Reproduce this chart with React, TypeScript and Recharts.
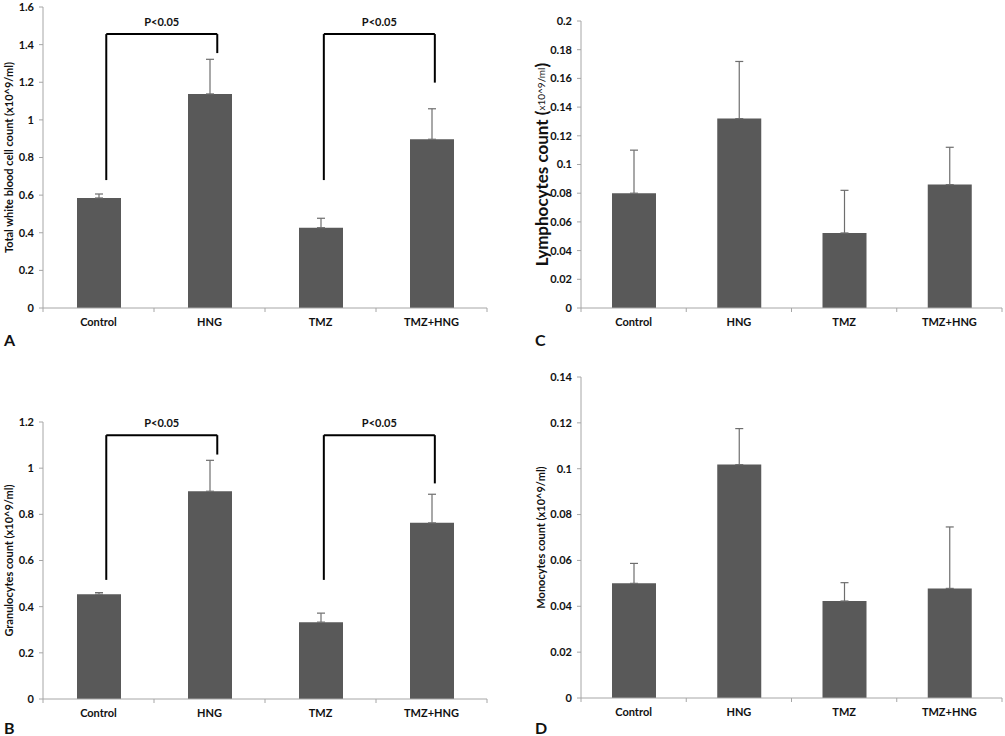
import React from 'react';
import { BarChart, Bar, XAxis, YAxis, ErrorBar, ReferenceLine } from 'recharts';

const categories = ['Control', 'HNG', 'TMZ', 'TMZ+HNG'];

const wbcMean = [0.585, 1.138, 0.427, 0.897];
const wbcErr = [0.021, 0.184, 0.05, 0.162];
const wbcTicks = [0, 0.2, 0.4, 0.6, 0.8, 1, 1.2, 1.4, 1.6];

const granMean = [0.454, 0.9, 0.333, 0.763];
const granErr = [0.007, 0.134, 0.039, 0.124];
const granTicks = [0, 0.2, 0.4, 0.6, 0.8, 1, 1.2];

const lymphMean = [0.08, 0.132, 0.0523, 0.086];
const lymphErr = [0.03, 0.0398, 0.0297, 0.026];
const lymphTicks = [0, 0.02, 0.04, 0.06, 0.08, 0.1, 0.12, 0.14, 0.16, 0.18, 0.2];

const monoMean = [0.05, 0.1018, 0.0423, 0.0478];
const monoErr = [0.0087, 0.0157, 0.008, 0.0268];
const monoTicks = [0, 0.02, 0.04, 0.06, 0.08, 0.1, 0.12, 0.14];

// significance brackets (x in category units on a 0..4 axis, y in data units)
const wbcBrackets = [
  { x1: 0.57, x2: 1.57, top: 1.456, leftEnd: 0.68, rightEnd: 1.355, label: 'P<0.05' },
  { x1: 2.53, x2: 3.53, top: 1.456, leftEnd: 0.68, rightEnd: 1.198, label: 'P<0.05' },
];
const granBrackets = [
  { x1: 0.57, x2: 1.57, top: 1.143, leftEnd: 0.516, rightEnd: 1.059, label: 'P<0.05' },
  { x1: 2.53, x2: 3.53, top: 1.143, leftEnd: 0.516, rightEnd: 0.934, label: 'P<0.05' },
];

const FONT = 'Lato, "Open Sans", "DejaVu Sans", sans-serif';
const BAR = '#595959';
const AXIS = '#a6a6a6';
const xTicks = [0, 0.5, 1, 1.5, 2, 2.5, 3, 3.5, 4];

const makeRows = (mean: number[], err: number[]) =>
  categories.map((c, i) => ({ name: c, pos: i + 0.5, value: mean[i], err: [0, err[i]] }));

const fmt = (v: number) => String(+v.toFixed(2));

const XTick = (props: any) => {
  const { x, y, payload } = props;
  const v = payload.value;
  if (Number.isInteger(v)) {
    return <line x1={x} x2={x} y1={y} y2={y + 4} stroke={AXIS} strokeWidth={1} />;
  }
  return (
    <text x={x} y={y + 10} dy="0.71em" textAnchor="middle" fontFamily={FONT} fontSize={11} fontWeight={700} fill="#111">
      {categories[Math.floor(v)]}
    </text>
  );
};

type PanelProps = {
  left: number;
  top: number;
  width: number;
  height: number;
  marginTop: number;
  marginRight: number;
  yWidth: number;
  xHeight: number;
  mean: number[];
  err: number[];
  ticks: number[];
  yLabel: React.ReactNode;
  labelX: number;
  brackets?: typeof wbcBrackets;
};

const Panel = (p: PanelProps) => {
  const data = makeRows(p.mean, p.err);
  const max = p.ticks[p.ticks.length - 1];
  return (
    <div style={{ position: 'absolute', left: p.left, top: p.top }}>
      <BarChart width={p.width} height={p.height} data={data} margin={{ top: p.marginTop, right: p.marginRight, bottom: 0, left: 0 }}>
        <XAxis
          dataKey="pos"
          type="number"
          domain={[0, 4]}
          ticks={xTicks}
          interval={0}
          height={p.xHeight}
          tickSize={0}
          tickMargin={0}
          tickLine={false}
          axisLine={{ stroke: AXIS, strokeWidth: 1 }}
          tick={<XTick />}
          allowDataOverflow
        />
        <YAxis
          width={p.yWidth}
          domain={[0, max]}
          ticks={p.ticks}
          interval={0}
          tickFormatter={fmt}
          tickSize={4}
          tickMargin={5}
          tickLine={{ stroke: AXIS }}
          axisLine={{ stroke: AXIS, strokeWidth: 1 }}
          tick={{ fontFamily: FONT, fontSize: 11, fontWeight: 700, fill: '#111' }}
          label={{
            content: (lp: any) => {
              const vb = lp.viewBox || {};
              const cx = p.labelX;
              const cy = vb.y + vb.height / 2;
              return (
                <text
                  x={cx}
                  y={cy}
                  transform={`rotate(-90, ${cx}, ${cy})`}
                  textAnchor="middle"
                  dominantBaseline="central"
                  fontFamily={FONT}
                  fill="#111"
                >
                  {p.yLabel}
                </text>
              );
            },
          }}
        />
        <Bar dataKey="value" fill={BAR} barSize={44} isAnimationActive={false}>
          <ErrorBar dataKey="err" width={4} stroke="#6e6e6e" strokeWidth={1.2} direction="y" />
        </Bar>
        {(p.brackets || []).map((b, i) => (
          <ReferenceLine
            key={'h' + i}
            segment={[{ x: b.x1, y: b.top }, { x: b.x2, y: b.top }]}
            stroke="#000"
            strokeWidth={2}
            ifOverflow="visible"
            label={{ value: b.label, position: 'top', offset: 8, fill: '#111', fontSize: 11, fontWeight: 700, fontFamily: FONT }}
          />
        ))}
        {(p.brackets || []).map((b, i) => (
          <ReferenceLine
            key={'l' + i}
            segment={[{ x: b.x1, y: b.top }, { x: b.x1, y: b.leftEnd }]}
            stroke="#000"
            strokeWidth={2}
            ifOverflow="visible"
          />
        ))}
        {(p.brackets || []).map((b, i) => (
          <ReferenceLine
            key={'r' + i}
            segment={[{ x: b.x2, y: b.top }, { x: b.x2, y: b.rightEnd }]}
            stroke="#000"
            strokeWidth={2}
            ifOverflow="visible"
          />
        ))}
      </BarChart>
    </div>
  );
};

const letterStyle = (left: number, top: number): React.CSSProperties => ({
  position: 'absolute',
  left,
  top,
  fontFamily: FONT,
  fontWeight: 700,
  fontSize: 16,
  lineHeight: '16px',
  color: '#111',
});

export default function App() {
  return (
    <div style={{ position: 'absolute', left: 0, top: 0, width: 1005, height: 736, background: '#fff', overflow: 'hidden' }}>
      <Panel
        left={0} top={0} width={500} height={345} marginTop={7} marginRight={13} yWidth={43} xHeight={37}
        mean={wbcMean} err={wbcErr} ticks={wbcTicks} brackets={wbcBrackets} labelX={8}
        yLabel={<tspan fontSize={11} fontWeight={700}>Total white blood cell count (x10^9/ml)</tspan>}
      />
      <Panel
        left={500} top={0} width={505} height={345} marginTop={21} marginRight={3} yWidth={81} xHeight={37}
        mean={lymphMean} err={lymphErr} ticks={lymphTicks} labelX={41}
        yLabel={
          <>
            <tspan fontSize={17} fontWeight={700}>Lymphocytes count (</tspan>
            <tspan fontSize={10} fontWeight={400}>x10^9/ml</tspan>
            <tspan fontSize={17} fontWeight={700}>)</tspan>
          </>
        }
      />
      <Panel
        left={0} top={360} width={500} height={376} marginTop={62} marginRight={13} yWidth={43} xHeight={37}
        mean={granMean} err={granErr} ticks={granTicks} brackets={granBrackets} labelX={8}
        yLabel={<tspan fontSize={11} fontWeight={700}>Granulocytes count (x10^9/ml)</tspan>}
      />
      <Panel
        left={500} top={360} width={505} height={376} marginTop={17} marginRight={3} yWidth={81} xHeight={38}
        mean={monoMean} err={monoErr} ticks={monoTicks} labelX={40}
        yLabel={<tspan fontSize={11} fontWeight={700}>Monocytes count (x10^9/ml)</tspan>}
      />
      <div style={letterStyle(4, 332)}>A</div>
      <div style={letterStyle(4, 720)}>B</div>
      <div style={letterStyle(535, 332)}>C</div>
      <div style={letterStyle(535, 720)}>D</div>
    </div>
  );
}
